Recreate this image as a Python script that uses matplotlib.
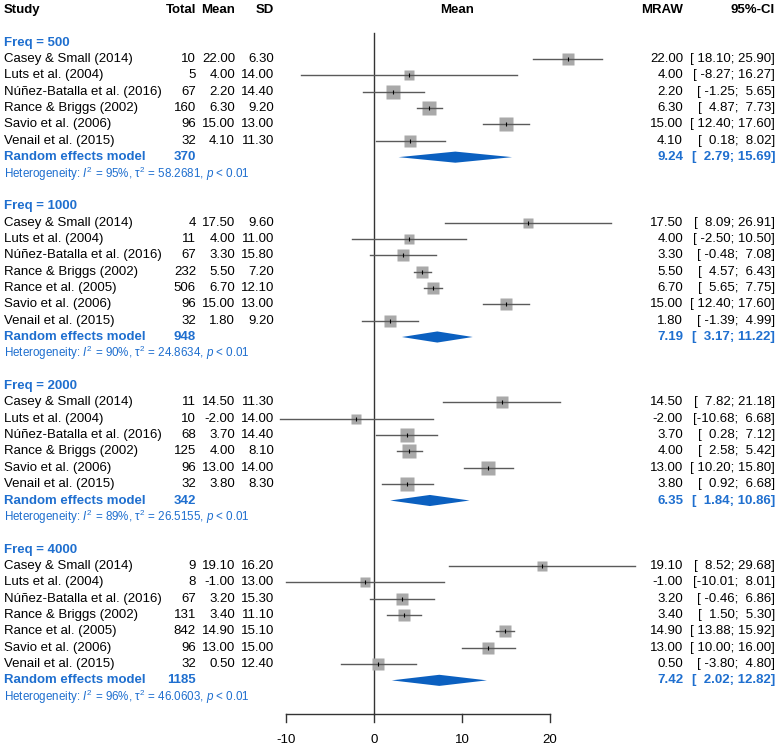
import numpy as np
import matplotlib
matplotlib.use("Agg")
import matplotlib.pyplot as plt
import matplotlib.transforms as mtransforms
from matplotlib.patches import Polygon

plt.rcParams['font.family'] = ['Liberation Sans', 'DejaVu Sans']
plt.rcParams['mathtext.fontset'] = 'custom'
plt.rcParams['mathtext.rm'] = 'Liberation Sans'
plt.rcParams['mathtext.it'] = 'Liberation Sans:italic'
plt.rcParams['mathtext.bf'] = 'Liberation Sans:bold'

# ---- data ----
FREQS = [500, 1000, 2000, 4000]

STUDIES = [
    ['Casey & Small (2014)', 'Luts et al. (2004)', 'Núñez-Batalla et al. (2016)',
     'Rance & Briggs (2002)', 'Savio et al. (2006)', 'Venail et al. (2015)'],
    ['Casey & Small (2014)', 'Luts et al. (2004)', 'Núñez-Batalla et al. (2016)',
     'Rance & Briggs (2002)', 'Rance et al. (2005)', 'Savio et al. (2006)', 'Venail et al. (2015)'],
    ['Casey & Small (2014)', 'Luts et al. (2004)', 'Núñez-Batalla et al. (2016)',
     'Rance & Briggs (2002)', 'Savio et al. (2006)', 'Venail et al. (2015)'],
    ['Casey & Small (2014)', 'Luts et al. (2004)', 'Núñez-Batalla et al. (2016)',
     'Rance & Briggs (2002)', 'Rance et al. (2005)', 'Savio et al. (2006)', 'Venail et al. (2015)'],
]
TOTALS = [
    [10, 5, 67, 160, 96, 32],
    [4, 11, 67, 232, 506, 96, 32],
    [11, 10, 68, 125, 96, 32],
    [9, 8, 67, 131, 842, 96, 32],
]
MEANS = [
    [22.00, 4.00, 2.20, 6.30, 15.00, 4.10],
    [17.50, 4.00, 3.30, 5.50, 6.70, 15.00, 1.80],
    [14.50, -2.00, 3.70, 4.00, 13.00, 3.80],
    [19.10, -1.00, 3.20, 3.40, 14.90, 13.00, 0.50],
]
SDS = [
    [6.30, 14.00, 14.40, 9.20, 13.00, 11.30],
    [9.60, 11.00, 15.80, 7.20, 12.10, 13.00, 9.20],
    [11.30, 14.00, 14.40, 8.10, 14.00, 8.30],
    [16.20, 13.00, 15.30, 11.10, 15.10, 15.00, 12.40],
]
LOWER = [
    [18.10, -8.27, -1.25, 4.87, 12.40, 0.18],
    [8.09, -2.50, -0.48, 4.57, 5.65, 12.40, -1.39],
    [7.82, -10.68, 0.28, 2.58, 10.20, 0.92],
    [8.52, -10.01, -0.46, 1.50, 13.88, 10.00, -3.80],
]
UPPER = [
    [25.90, 16.27, 5.65, 7.73, 17.60, 8.02],
    [26.91, 10.50, 7.08, 6.43, 7.75, 17.60, 4.99],
    [21.18, 6.68, 7.12, 5.42, 15.80, 6.68],
    [29.68, 8.01, 6.86, 5.30, 15.92, 16.00, 4.80],
]
RE_TOTAL = [370, 948, 342, 1185]
RE_EST = [9.24, 7.19, 6.35, 7.42]
RE_LOW = [2.79, 3.17, 1.84, 2.02]
RE_UPP = [15.69, 11.22, 10.86, 12.82]
I2 = [95, 90, 89, 96]
TAU2 = [58.2681, 24.8634, 26.5155, 46.0603]

XTICKS = [-10, 0, 10, 20]

# ---- layout ----
W, H = 778, 746
ZERO_PX, PX_PER_UNIT = 374, 8.8
TOP_PX, ROW_PX = 10, 16.35
BLUE_TXT = '#1f6fcf'
BLUE_DIA = '#0b60c0'
FS = 9.5

fig = plt.figure(figsize=(W / 100, H / 100), dpi=100)
ax = fig.add_axes([0, 0, 1, 1])
ax.set_xlim(-ZERO_PX / PX_PER_UNIT, (W - ZERO_PX) / PX_PER_UNIT)
ax.set_ylim((H - TOP_PX) / ROW_PX, -TOP_PX / ROW_PX)
ax.axis('off')

col = mtransforms.blended_transform_factory(ax.transAxes, ax.transData)


def px(x):
    return x / W


def txt(x, y, s, ha='left', **kw):
    kw.setdefault('fontsize', FS)
    ax.text(px(x), y, s, ha=ha, va='center', transform=col, **kw)


# header
txt(4, 0, 'Study', fontweight='bold')
txt(196, 0, 'Total', ha='right', fontweight='bold')
txt(235, 0, 'Mean', ha='right', fontweight='bold')
txt(274, 0, 'SD', ha='right', fontweight='bold')
txt(457, 0, 'Mean', ha='center', fontweight='bold')
txt(683, 0, 'MRAW', ha='right', fontweight='bold')
txt(775, 0, '95%-CI', ha='right', fontweight='bold')


def ci_str(lo, hi):
    return f'[{lo:6.2f};{hi:6.2f}]'


row = 2
for g, freq in enumerate(FREQS):
    txt(4, row, f'Freq = {freq}', fontweight='bold', color=BLUE_TXT)
    lo = np.array(LOWER[g])
    hi = np.array(UPPER[g])
    se = (hi - lo) / (2 * 1.96)
    w = 1 / (se ** 2 + TAU2[g])
    pct = w / w.sum()
    for i, name in enumerate(STUDIES[g]):
        y = row + 1 + i
        m = MEANS[g][i]
        txt(4, y, name)
        txt(196, y, f'{TOTALS[g][i]}', ha='right')
        txt(235, y, f'{m:.2f}', ha='right')
        txt(274, y, f'{SDS[g][i]:.2f}', ha='right')
        txt(683, y, f'{m:.2f}', ha='right')
        txt(775, y, ci_str(LOWER[g][i], UPPER[g][i]), ha='right')
        side_px = 31 * np.sqrt(pct[i])
        ax.plot(m, y, marker='s', ms=side_px * 0.72, color='#a9a9a9',
                mec='none', zorder=2)
        ax.plot([LOWER[g][i], UPPER[g][i]], [y, y], color='#5a5a5a', lw=1.0, zorder=3)
        ax.plot(m, y, marker='|', ms=3.5, color='black', mew=0.8, zorder=4)
    y = row + len(STUDIES[g]) + 1
    txt(4, y, 'Random effects model', fontweight='bold', color=BLUE_TXT)
    txt(196, y, f'{RE_TOTAL[g]}', ha='right', fontweight='bold', color=BLUE_TXT)
    txt(683, y, f'{RE_EST[g]:.2f}', ha='right', fontweight='bold', color=BLUE_TXT)
    txt(775, y, ci_str(RE_LOW[g], RE_UPP[g]), ha='right', fontweight='bold', color=BLUE_TXT)
    h = 0.34
    ax.add_patch(Polygon([(RE_LOW[g], y), (RE_EST[g], y - h), (RE_UPP[g], y),
                          (RE_EST[g], y + h)], closed=True, color=BLUE_DIA, lw=0, zorder=3))
    txt(4, y + 1, rf'Heterogeneity: $I^2$ = {I2[g]}%, $\mathrm{{\tau}}^2$ = {TAU2[g]:.4f}, $p$ < 0.01',
        fontsize=8.4, color=BLUE_TXT)
    row += len(STUDIES[g]) + 4

# reference line and x axis
y_axis = (714 - TOP_PX) / ROW_PX
y_top = (33 - TOP_PX) / ROW_PX
tick_len = 8 / ROW_PX
ax.plot([0, 0], [y_top, y_axis], color='#333333', lw=1.0, zorder=1)
ax.plot([XTICKS[0], XTICKS[-1]], [y_axis, y_axis], color='#333333', lw=1.0)
for t in XTICKS:
    ax.plot([t, t], [y_axis, y_axis + tick_len], color='#333333', lw=1.0)
    ax.text(t, y_axis + 26 / ROW_PX, f'{t}', ha='center', va='center', fontsize=FS)

fig.savefig('out.png', dpi=100)
